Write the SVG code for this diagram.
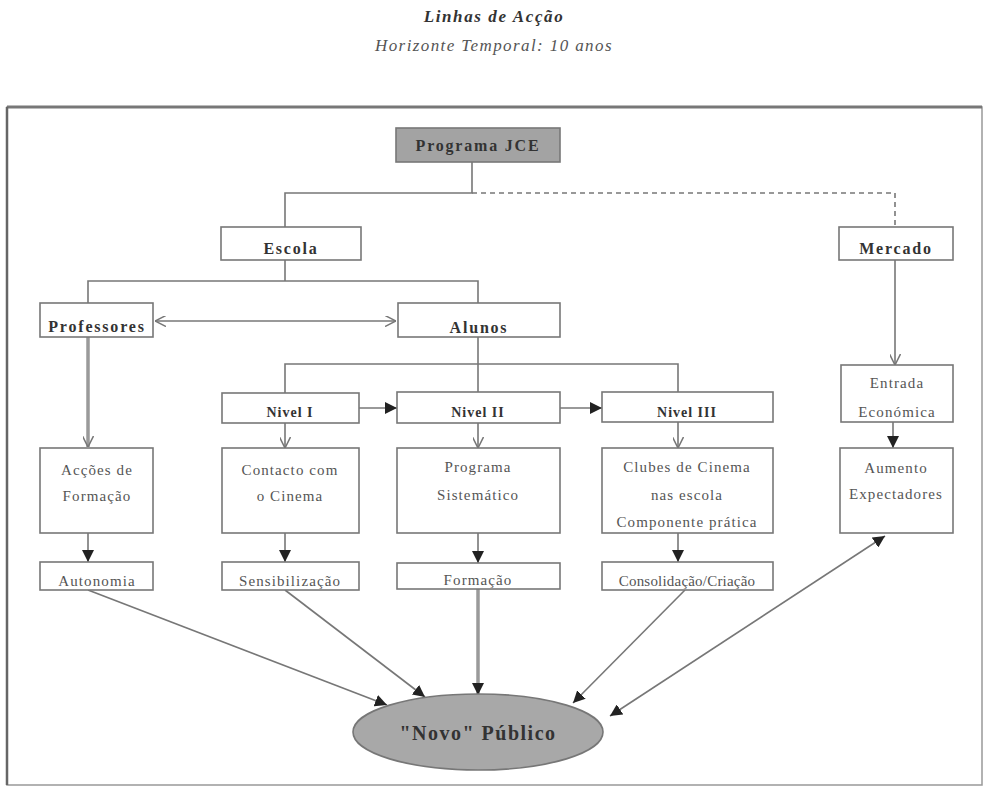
<svg xmlns="http://www.w3.org/2000/svg" width="984" height="787" viewBox="0 0 984 787">
<style>
.box{fill:#fff;stroke:#777;stroke-width:1.6}
.lbl{font-family:"Liberation Serif","Times New Roman",serif;font-weight:bold;font-size:16px;letter-spacing:1.8px;fill:#333;text-anchor:middle}
.nv{font-family:"Liberation Serif","Times New Roman",serif;font-weight:bold;font-size:14px;letter-spacing:1px;fill:#333;text-anchor:middle}
.txt{font-family:"Liberation Serif","Times New Roman",serif;font-size:15px;letter-spacing:1.1px;fill:#555;text-anchor:middle}
.ln{fill:none;stroke:#777;stroke-width:1.6}
.thick{fill:none;stroke:#9a9a9a;stroke-width:3.5}
</style>
<defs>
<marker id="open" viewBox="0 0 10 10" refX="10" refY="5" markerWidth="11" markerHeight="11" markerUnits="userSpaceOnUse" orient="auto-start-reverse">
<path d="M0,0 L10,5 L0,10" fill="none" stroke="#777" stroke-width="1.4"/>
</marker>
<marker id="fill" viewBox="0 0 10 10" refX="10" refY="5" markerWidth="12" markerHeight="12" markerUnits="userSpaceOnUse" orient="auto-start-reverse">
<path d="M0,0 L10,5 L0,10 z" fill="#222"/>
</marker>
</defs>
<rect width="984" height="787" fill="#fff"/>
<g id="title">
<text x="494" y="22" style="font-family:'Liberation Serif',serif;font-style:italic;font-weight:bold;font-size:17px;letter-spacing:1.6px;fill:#333;text-anchor:middle">Linhas de Acção</text>
<text x="494" y="51" style="font-family:'Liberation Serif',serif;font-style:italic;font-size:17px;letter-spacing:1.4px;fill:#555;text-anchor:middle">Horizonte Temporal: 10 anos</text>
</g>
<g id="frame">
<rect x="7" y="107" width="975" height="678" fill="none" stroke="#999" stroke-width="1.5"/>
<line x1="7" y1="107" x2="982" y2="107" stroke="#777" stroke-width="3"/>
<line x1="7" y1="107" x2="7" y2="785" stroke="#666" stroke-width="2.5"/>
</g>
<g id="connectors">
<polyline class="ln" points="472,162 472,193 285,193 285,227"/>
<polyline class="ln" points="472,193 895,193 895,227" stroke-dasharray="5,4"/>
<line class="ln" x1="285" y1="260" x2="285" y2="281"/>
<polyline class="ln" points="88,303 88,281 478,281 478,303"/>
<line class="ln" x1="155" y1="321" x2="396" y2="321" marker-start="url(#open)" marker-end="url(#open)"/>
<line class="thick" x1="88" y1="337" x2="88" y2="447" marker-end="url(#open)"/>
<line class="ln" x1="478" y1="337" x2="478" y2="392"/>
<polyline class="ln" points="285,393 285,364 678,364 678,392"/>
<line class="ln" x1="359" y1="408" x2="397" y2="408" marker-end="url(#fill)"/>
<line class="ln" x1="560" y1="408" x2="602" y2="408" marker-end="url(#fill)"/>
<line class="ln" x1="285" y1="423" x2="285" y2="448" marker-end="url(#open)"/>
<line class="ln" x1="478" y1="423" x2="478" y2="448" marker-end="url(#open)"/>
<line class="ln" x1="678" y1="422" x2="678" y2="448" marker-end="url(#open)"/>
<line class="ln" x1="895" y1="260" x2="895" y2="365" marker-end="url(#open)"/>
<line class="ln" x1="88" y1="533" x2="88" y2="562" marker-end="url(#fill)"/>
<line class="ln" x1="285" y1="533" x2="285" y2="562" marker-end="url(#fill)"/>
<line class="ln" x1="478" y1="533" x2="478" y2="563" marker-end="url(#fill)"/>
<line class="ln" x1="678" y1="533" x2="678" y2="562" marker-end="url(#fill)"/>
<line class="ln" x1="893" y1="422" x2="893" y2="448" marker-end="url(#fill)"/>
<line class="ln" x1="88" y1="590" x2="387" y2="705" marker-end="url(#fill)"/>
<line class="ln" x1="285" y1="590" x2="425" y2="697" marker-end="url(#fill)"/>
<line class="thick" x1="478" y1="589" x2="478" y2="695" marker-end="url(#fill)"/>
<line class="ln" x1="685" y1="590" x2="573" y2="703" marker-end="url(#fill)"/>
<line class="ln" x1="885" y1="536" x2="610" y2="716" marker-start="url(#fill)" marker-end="url(#fill)"/>
</g>
<g id="programa-jce">
<rect x="396" y="128" width="164" height="34" fill="#a3a3a3" stroke="#777" stroke-width="1.6"/>
<text class="lbl" x="478" y="151">Programa JCE</text>
</g>
<g id="escola">
<rect class="box" x="221" y="227" width="140" height="33"/>
<text class="lbl" x="291" y="254">Escola</text>
</g>
<g id="mercado">
<rect class="box" x="839" y="227" width="114" height="33"/>
<text class="lbl" x="896" y="254">Mercado</text>
</g>
<g id="professores">
<rect class="box" x="40" y="303" width="113" height="34"/>
<text class="lbl" x="97" y="332">Professores</text>
</g>
<g id="alunos">
<rect class="box" x="398" y="303" width="162" height="34"/>
<text class="lbl" x="479" y="333">Alunos</text>
</g>
<g id="nivel-1">
<rect class="box" x="222" y="393" width="137" height="30"/>
<text class="nv" x="290" y="417">Nivel I</text>
</g>
<g id="nivel-2">
<rect class="box" x="397" y="392" width="163" height="31"/>
<text class="nv" x="478" y="417">Nivel II</text>
</g>
<g id="nivel-3">
<rect class="box" x="602" y="392" width="171" height="30"/>
<text class="nv" x="687" y="417">Nivel III</text>
</g>
<g id="entrada">
<rect class="box" x="841" y="365" width="112" height="57"/>
<text class="txt" x="897" y="388">Entrada</text>
<text class="txt" x="897" y="417">Económica</text>
</g>
<g id="accoes">
<rect class="box" x="40" y="448" width="113" height="85"/>
<text class="txt" x="97" y="475">Acções de</text>
<text class="txt" x="97" y="501">Formação</text>
</g>
<g id="contacto">
<rect class="box" x="222" y="448" width="137" height="85"/>
<text class="txt" x="290" y="475">Contacto com</text>
<text class="txt" x="290" y="501">o Cinema</text>
</g>
<g id="programa-sistematico">
<rect class="box" x="397" y="448" width="163" height="85"/>
<text class="txt" x="478" y="472">Programa</text>
<text class="txt" x="478" y="500">Sistemático</text>
</g>
<g id="clubes">
<rect class="box" x="602" y="448" width="171" height="85"/>
<text class="txt" x="687" y="472">Clubes de Cinema</text>
<text class="txt" x="687" y="500">nas escola</text>
<text class="txt" x="687" y="527">Componente prática</text>
</g>
<g id="aumento">
<rect class="box" x="840" y="448" width="113" height="85"/>
<text class="txt" x="896" y="473">Aumento</text>
<text class="txt" x="896" y="499">Expectadores</text>
</g>
<g id="autonomia">
<rect class="box" x="40" y="562" width="113" height="28"/>
<text class="txt" x="97" y="586">Autonomia</text>
</g>
<g id="sensibilizacao">
<rect class="box" x="222" y="562" width="137" height="28"/>
<text class="txt" x="290" y="586">Sensibilização</text>
</g>
<g id="formacao">
<rect class="box" x="397" y="563" width="163" height="26"/>
<text class="txt" x="478" y="585">Formação</text>
</g>
<g id="consolidacao">
<rect class="box" x="602" y="562" width="171" height="28"/>
<text class="txt" x="687" y="586" style="letter-spacing:0.2px">Consolidação/Criação</text>
</g>
<g id="novo-publico">
<ellipse cx="478" cy="732" rx="125" ry="38" fill="#a8a8a8" stroke="#777" stroke-width="1.6"/>
<text x="478" y="740" style="font-family:'Liberation Serif',serif;font-weight:bold;font-size:20px;letter-spacing:1.5px;fill:#333;text-anchor:middle">"Novo" Público</text>
</g>
</svg>
